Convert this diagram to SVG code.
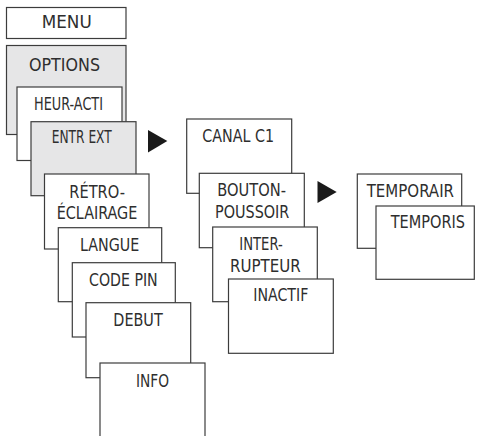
<svg xmlns="http://www.w3.org/2000/svg" width="477" height="436" viewBox="0 0 477 436">
<style>
.b{fill:#fff;stroke:#3c3c3c;stroke-width:1.2}
.g{fill:#e6e6e7;stroke:#3c3c3c;stroke-width:1.2}
text{font-family:"DejaVu Sans Condensed","Liberation Sans Narrow","Liberation Sans",sans-serif;font-size:17.3px;fill:#2e2e2e}
.arr{fill:#1a1a1a}
</style>
<rect width="477" height="436" fill="#fff"/>
<g id="menu"><rect class="b" x="6.5" y="7.5" width="119.5" height="31"/><text x="41.7" y="28.3" textLength="50" lengthAdjust="spacingAndGlyphs">MENU</text></g>
<g id="options"><rect class="g" x="6.5" y="45.5" width="119.5" height="89"/><text x="29" y="70.7" textLength="71" lengthAdjust="spacingAndGlyphs">OPTIONS</text></g>
<g id="heur-acti"><rect class="b" x="17" y="87" width="105" height="73.5"/><text x="34" y="110" textLength="69" lengthAdjust="spacingAndGlyphs">HEUR-ACTI</text></g>
<g id="entr-ext"><rect class="g" x="31" y="121.7" width="105" height="74"/><text x="51.7" y="143.3" textLength="60" lengthAdjust="spacingAndGlyphs">ENTR EXT</text></g>
<g id="retro"><rect class="b" x="44.5" y="174" width="104.5" height="75"/><text x="69.3" y="198.3" textLength="55.7" lengthAdjust="spacingAndGlyphs">RÉTRO-</text><text x="56.7" y="219" textLength="80.6" lengthAdjust="spacingAndGlyphs">ÉCLAIRAGE</text></g>
<g id="langue"><rect class="b" x="58.3" y="227.7" width="103.4" height="74"/><text x="80" y="251" textLength="59.3" lengthAdjust="spacingAndGlyphs">LANGUE</text></g>
<g id="code-pin"><rect class="b" x="72.3" y="262.7" width="103" height="74.3"/><text x="89" y="286" textLength="68.7" lengthAdjust="spacingAndGlyphs">CODE PIN</text></g>
<g id="debut"><rect class="b" x="86" y="302.7" width="104.7" height="75"/><text x="113.3" y="326" textLength="49.4" lengthAdjust="spacingAndGlyphs">DEBUT</text></g>
<g id="info"><rect class="b" x="100" y="363" width="105" height="80"/><text x="136" y="387.3" textLength="33" lengthAdjust="spacingAndGlyphs">INFO</text></g>
<g id="canal-c1"><rect class="b" x="186.7" y="119" width="105" height="74.3"/><text x="202.3" y="141.7" textLength="71.7" lengthAdjust="spacingAndGlyphs">CANAL C1</text></g>
<g id="bouton"><rect class="b" x="199.3" y="173.3" width="105" height="74.4"/><text x="217.3" y="196" textLength="68.7" lengthAdjust="spacingAndGlyphs">BOUTON-</text><text x="215" y="217.7" textLength="74.3" lengthAdjust="spacingAndGlyphs">POUSSOIR</text></g>
<g id="inter"><rect class="b" x="212.7" y="227" width="104.6" height="74.7"/><text x="239.3" y="250" textLength="43.4" lengthAdjust="spacingAndGlyphs">INTER-</text><text x="230" y="271.7" textLength="70.7" lengthAdjust="spacingAndGlyphs">RUPTEUR</text></g>
<g id="inactif"><rect class="b" x="228.5" y="279" width="104.8" height="74.3"/><text x="253.3" y="301" textLength="55" lengthAdjust="spacingAndGlyphs">INACTIF</text></g>
<g id="temporair"><rect class="b" x="357.3" y="174" width="104.4" height="74.3"/><text x="366.7" y="196.7" textLength="87.3" lengthAdjust="spacingAndGlyphs">TEMPORAIR</text></g>
<g id="temporis"><rect class="b" x="376" y="206" width="98.3" height="73.3"/><text x="390.7" y="228.3" textLength="74.3" lengthAdjust="spacingAndGlyphs">TEMPORIS</text></g>
<g id="connectors">
<polygon class="arr" points="148,130 167.3,141 148,152.5"/>
<polygon class="arr" points="317.5,181 336.7,192 317.5,203"/>
</g>
</svg>
